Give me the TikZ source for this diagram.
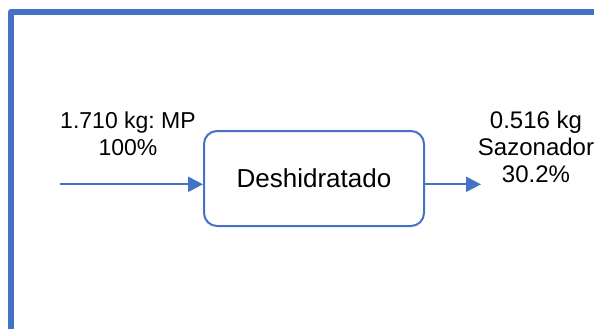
\documentclass[tikz,border=0pt]{standalone}
\usepackage{fontspec}
\setmainfont{Liberation Sans}
\usetikzlibrary{arrows.meta}
\frenchspacing
\definecolor{flowblue}{HTML}{4472C4}
\tikzset{
  frameline/.style={draw=flowblue, line width=6pt, line join=round},
  procbox/.style={draw=flowblue, line width=2pt, rounded corners=13pt, fill=white,
    minimum width=220pt, minimum height=95pt, inner sep=0pt,
    font=\fontsize{26}{30}\selectfont},
  flow/.style={draw=flowblue, line width=2.2pt,
    -{Triangle[length=15pt,width=15pt]}},
  qty/.style={align=center, inner sep=0pt, font=\fontsize{23}{26.8}\selectfont},
  qtyr/.style={qty, font=\fontsize{24}{27}\selectfont}
}
\begin{document}
\begin{tikzpicture}[x=1pt,y=-1pt]
  \useasboundingbox (0,0) rectangle (594,329);
  % outer frame (top and left edges)
  \coordinate (fbl) at (11,335);
  \coordinate (ftl) at (11,12);
  \coordinate (ftr) at (600,12);
  \draw[frameline] (fbl) -- (ftl) -- (ftr);
  % process
  \node[procbox] (proc) at (314,178.5) {Deshidratado};
  % input flow
  \coordinate (src) at (60,184.3);
  \draw[flow] (src) -- (src -| proc.west);
  \node[qty, anchor=base] (inlbl) at (128,155) {1.710 kg: MP\\100\%};
  % output flow
  \coordinate (dst) at (481,184.3);
  \draw[flow] (dst -| proc.east) -- (dst);
  \node[qtyr, anchor=base] (outlbl) at (536,182) {0.516 kg\\Sazonador\\30.2\%};
\end{tikzpicture}
\end{document}
